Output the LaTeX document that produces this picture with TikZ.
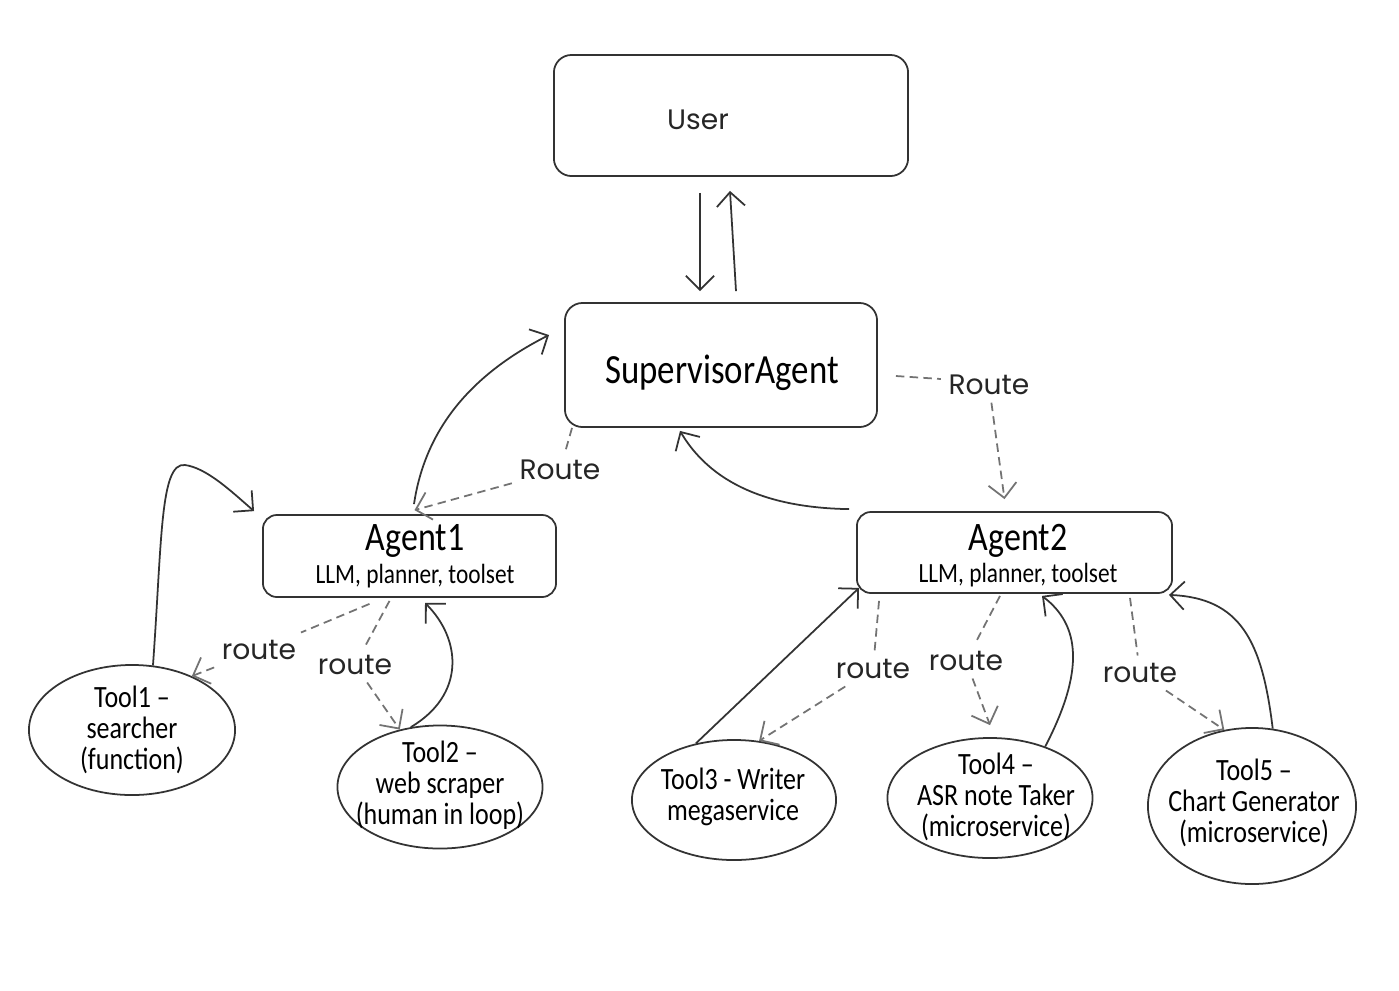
\documentclass[tikz,border=0pt]{standalone}
\usepackage{fontspec}
\setmainfont{Carlito}[FakeStretch=0.84]
\newfontfamily\handfont{Poppins}
\usetikzlibrary{arrows.meta,shapes.geometric,calc}
\tikzset{
  box/.style={draw=black!80, line width=0.5pt, rounded corners=5pt, inner sep=0pt},
  agentbox/.style={box, rounded corners=4pt},
  tool/.style={ellipse, draw=black!80, line width=0.5pt, inner sep=0pt},
  tooltext/.style={align=center, inner sep=0pt, font=\fontsize{8.8}{8.8}\selectfont},
  bigtext/.style={inner sep=0pt, font=\fontsize{11.5}{12}\selectfont},
  subtext/.style={inner sep=0pt, font=\fontsize{7.9}{9}\selectfont},
  flow/.style={draw=black!80, line width=0.5pt, -{Straight Barb[length=4pt,width=8pt]}},
  routeline/.style={draw=black!55, line width=0.5pt, dash pattern=on 2.4pt off 1.5pt},
  routearrow/.style={routeline, -{Straight Barb[length=4pt,width=8pt]}},
  lbl/.style={font=\handfont\fontsize{8}{9}\selectfont, inner sep=2pt, text=black!85},
}
\begin{document}
\begin{tikzpicture}[x=0.01cm,y=-0.01cm]
\useasboundingbox (0,0) rectangle (1399,990);
\fill[white] (0,0) rectangle (1399,990);

% boxes
\node[box, minimum width=3.54cm, minimum height=1.21cm] (u) at (731,115.5) {};
\node[lbl] (ut) at (698,120) {User};
\node[box, minimum width=3.12cm, minimum height=1.24cm] (s) at (721,365) {};
\node[font=\fontsize{11.8}{13}\selectfont] (st) at (722,373) {SupervisorAgent};
\node[agentbox, minimum width=2.93cm, minimum height=0.82cm] (a1) at (409.5,556) {};
\node[bigtext] (a1t) at (415,541) {Agent1};
\node[subtext] (a1s) at (415,576) {LLM, planner, toolset};
\node[agentbox, minimum width=3.15cm, minimum height=0.81cm] (a2) at (1014.5,552.5) {};
\node[bigtext] (a2t) at (1018,541) {Agent2};
\node[subtext] (a2s) at (1018,575) {LLM, planner, toolset};

% tools
\node[tool, minimum width=2.06cm, minimum height=1.30cm] (t1) at (132,730) {};
\node[tooltext] (t1t) at (132,729.5) {Tool1 –\\searcher\\(function)};
\node[tool, minimum width=2.05cm, minimum height=1.23cm] (t2) at (440,787) {};
\node[tooltext] (t2t) at (440,785.5) {Tool2 –\\web scraper\\(human in loop)};
\node[tool, minimum width=2.04cm, minimum height=1.20cm] (t3) at (734,800) {};
\node[tooltext] (t3t) at (733,796.5) {Tool3 - Writer\\megaservice};
\node[tool, minimum width=2.05cm, minimum height=1.20cm] (t4) at (990,798) {};
\node[tooltext] (t4t) at (996,797) {Tool4 –\\ASR note Taker\\(microservice)};
\node[tool, minimum width=2.08cm, minimum height=1.56cm] (t5) at (1252,806) {};
\node[tooltext] (t5t) at (1254,802.5) {Tool5 –\\Chart Generator\\(microservice)};

% route labels
\node[lbl] (r1) at (560,470) {Route};
\node[lbl] (r2) at (989,385) {Route};
\node[lbl] (r3) at (259,650) {route};
\node[lbl] (r4) at (355,665) {route};
\node[lbl] (r5) at (873,669) {route};
\node[lbl] (r6) at (966,661) {route};
\node[lbl] (r7) at (1140,673) {route};

% user <-> supervisor
\draw[flow] ($(u.south)+(-31,16)$) -- ($(s.north)+(-21,-11)$);
\draw[flow] ($(s.north)+(15,-11)$) -- ($(u.south)+(-1,14)$);

% supervisor -> agents (dashed)
\draw[routeline] ($(s.south west)+(8,0)$) -- (r1);
\draw[routearrow] (r1) -- ($(a1.north)+(5,-4)$);
\draw[routeline] ($(s.east)+(18,11)$) -- ($(r2.west)+(0,-6)$);
\draw[routearrow] (r2) -- ($(a2.north)+(-10,-12)$);

% agents -> supervisor (solid)
\draw[flow] ($(a1.north)+(4.5,-10)$) .. controls (425,430) and (470,375) .. ($(s.west)+(-15,-30)$);
\draw[flow] ($(a2.north west)+(-7,-2)$) .. controls (780,508) and (715,490) .. ($(s.south)+(-41,3)$);

% agent1 -> tools (dashed)
\draw[routeline] ($(a1.south)+(-40,6)$) -- (r3);
\draw[routearrow] (r3) -- (t1.42);
\draw[routeline] ($(a1.south)+(-20,3)$) -- (r4);
\draw[routearrow] (r4) -- (t2.125);

% tools -> agent1 (solid)
\draw[flow] (t1.72) .. controls (162,540) and (160,462) .. (185,465)
  .. controls (207,468) and (232,492) .. ($(a1.north west)+(-8,-3)$);
\draw[flow] (t2.116) .. controls (465,695) and (462,640) .. ($(a1.south)+(15.5,5)$);

% agent2 -> tools (dashed)
\draw[routeline] ($(a2.south west)+(23,7)$) -- (r5);
\draw[routearrow] (r5) -- (t3.67);
\draw[routeline] ($(a2.south)+(-14.5,2)$) -- (r6);
\draw[routearrow] (r6) -- ($(t4.north)+(0,-12)$);
\draw[routeline] ($(a2.south)+(115.5,4)$) -- (r7);
\draw[routearrow] (r7) -- (t5.110);

% tools -> agent2 (solid)
\draw[flow] (t3.124) -- ($(a2.south west)+(3,-6)$);
\draw[flow] (t4.43) .. controls (1085,670) and (1080,625) .. ($(a2.south)+(27.5,2)$);
\draw[flow] (t5.75) .. controls (1262,640) and (1240,598) .. ($(a2.south east)+(-4,1)$);
\end{tikzpicture}
\end{document}
